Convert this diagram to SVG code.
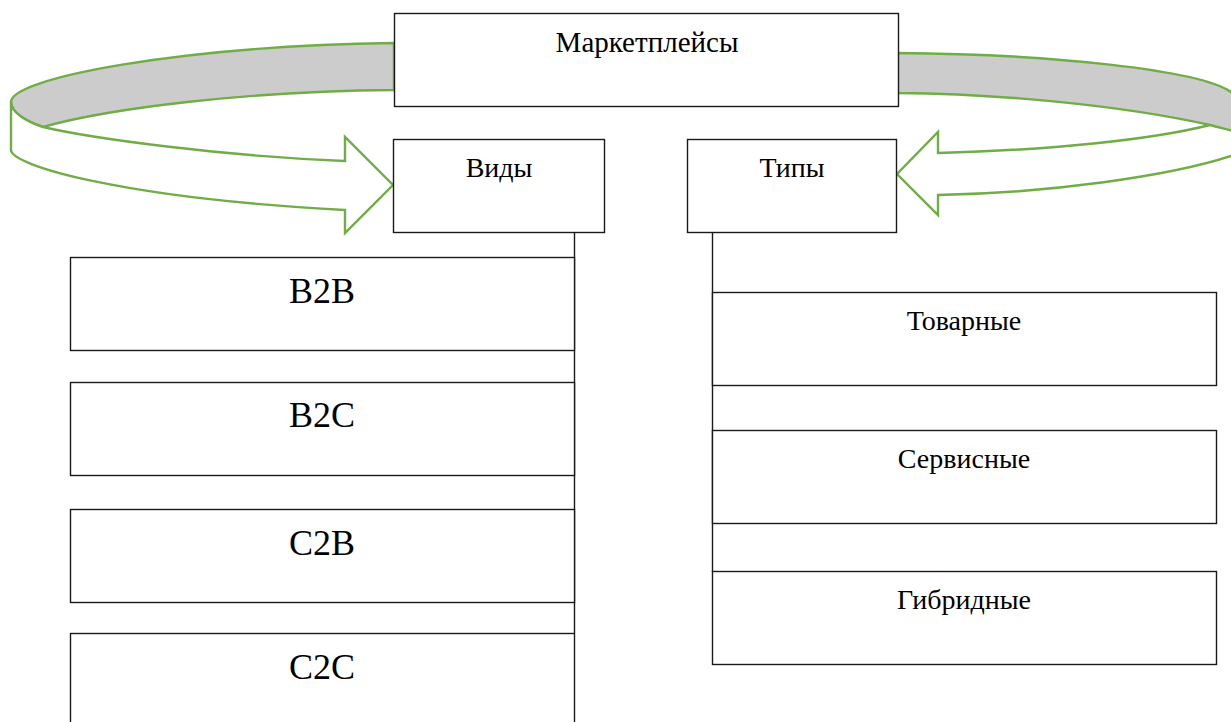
<svg xmlns="http://www.w3.org/2000/svg" width="1231" height="722" viewBox="0 0 1231 722">
  <style>
    .box { fill: #ffffff; stroke: #1a1a1a; stroke-width: 1.4; }
    .lbl { font-family: "Liberation Serif", "Times New Roman", serif; fill: #000000; text-anchor: middle; }
    .s28 { font-size: 28px; }
    .s29 { font-size: 29px; }
    .s36 { font-size: 36px; }
    .band { fill: #cccccc; stroke: #70ad47; stroke-width: 2.4; stroke-linejoin: round; }
    .front { fill: #ffffff; stroke: #70ad47; stroke-width: 2.4; stroke-linejoin: miter; }
    .conn { stroke: #1a1a1a; stroke-width: 1.4; fill: none; }
  </style>

  <!-- curved ribbon arrows from the title box to the two category boxes -->
  <g id="ribbons">
    <path class="band" d="M394,43 C180,46 11,78 11,102 C11,112 25,121 43,127 C110,108 250,91 394,90 Z"/>
    <path class="front" d="M11,102 L11,150 C11,165 120,198 345,210 L345,233 L393,185 L345,137 L345,161 C220,156 90,138 43,127 C25,121 11,112 11,102 Z"/>
    <path class="band" d="M897,53 C1050,54 1200,70 1231,92 C1245,103 1258,120 1258,138 C1250,136 1240,135 1231,133 C1222,130 1215,127 1210,125 C1120,105 1000,94 897,93 Z"/>
    <path class="front" d="M1258,138 C1258,145 1250,150 1231,156 C1170,176 1050,193 938,195 L938,215 L897,174 L938,132 L938,153 C1050,150 1150,140 1210,125 C1225,129 1245,134 1258,138 Z"/>
  </g>

  <!-- tree connectors -->
  <g id="connectors">
    <line class="conn" x1="574.5" y1="233" x2="574.5" y2="633"/>
    <line class="conn" x1="712.5" y1="233" x2="712.5" y2="572"/>
  </g>

  <g id="marketplaces">
    <rect class="box" x="394.5" y="13.5" width="504" height="93"/>
    <text class="lbl s29" x="647" y="52">Маркетплейсы</text>
  </g>

  <g id="kinds">
    <rect class="box" x="393.5" y="139.5" width="211" height="93"/>
    <text class="lbl s28" x="499" y="177">Виды</text>
  </g>

  <g id="types">
    <rect class="box" x="687.5" y="139.5" width="209" height="93"/>
    <text class="lbl s28" x="792" y="177">Типы</text>
  </g>

  <g id="b2b">
    <rect class="box" x="70.5" y="257.5" width="504" height="93"/>
    <text class="lbl s36" x="322" y="303">B2B</text>
  </g>
  <g id="b2c">
    <rect class="box" x="70.5" y="382.5" width="504" height="93"/>
    <text class="lbl s36" x="322" y="427">B2C</text>
  </g>
  <g id="c2b">
    <rect class="box" x="70.5" y="509.5" width="504" height="93"/>
    <text class="lbl s36" x="322" y="555">C2B</text>
  </g>
  <g id="c2c">
    <rect class="box" x="70.5" y="633.5" width="504" height="93"/>
    <text class="lbl s36" x="322" y="679">C2C</text>
  </g>

  <g id="goods">
    <rect class="box" x="712.5" y="292.5" width="504" height="93"/>
    <text class="lbl s28" x="964" y="330">Товарные</text>
  </g>
  <g id="services">
    <rect class="box" x="712.5" y="430.5" width="504" height="93"/>
    <text class="lbl s28" x="964" y="468">Сервисные</text>
  </g>
  <g id="hybrid">
    <rect class="box" x="712.5" y="571.5" width="504" height="93"/>
    <text class="lbl s28" x="964" y="609">Гибридные</text>
  </g>
</svg>
